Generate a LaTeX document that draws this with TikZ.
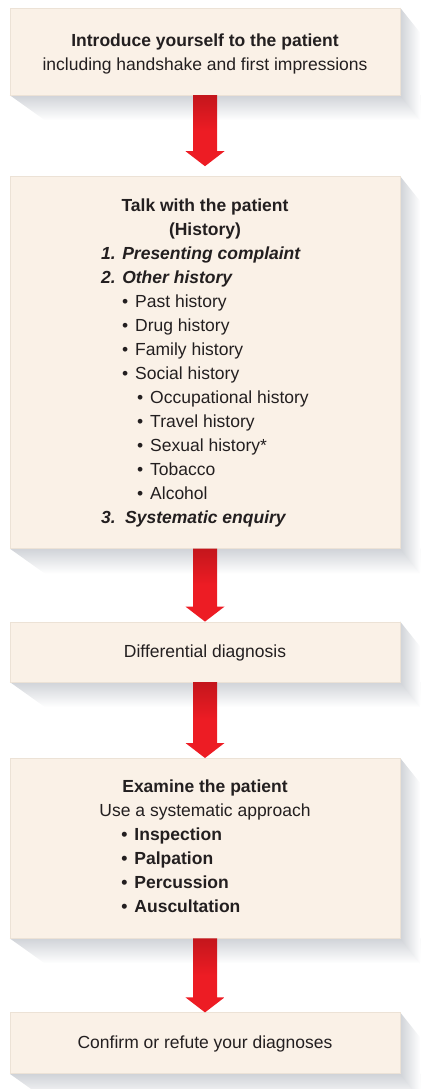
\documentclass[tikz,border=0pt]{standalone}
\usepackage{fontspec}
\setmainfont{Liberation Sans}
\usetikzlibrary{positioning,calc,backgrounds}
\definecolor{boxfill}{RGB}{250,241,231}
\definecolor{boxedge}{RGB}{236,226,214}
\definecolor{inkgray}{RGB}{35,31,32}
\definecolor{shadowgray}{RGB}{208,211,216}
\definecolor{arrowred}{RGB}{237,28,36}
\definecolor{arrowdark}{RGB}{196,22,28}
\newcommand{\bul}[1]{\hspace*{#1}\makebox[13pt][l]{\textbullet}}
\newcommand{\topstrut}[1]{\rule{0pt}{#1}}
% perspective shadow behind a box
\newcommand{\boxshadow}[1]{%
  \shade[top color=shadowgray,bottom color=white]
    (#1.south west) -- ($(#1.south west)+(35,25)$) -- ($(#1.south east)+(20,25)$)
    -- ($(#1.south east)+(20,0)$) -- cycle;
  \shade[left color=shadowgray,right color=white]
    (#1.north east) -- ($(#1.north east)+(20,25)$) -- ($(#1.south east)+(20,25)$)
    -- (#1.south east) -- cycle;}
% fat red arrow from box to box (optional gap above the target)
\newcommand{\flowarrow}[3][0]{%
  \shade[top color=arrowdark,bottom color=arrowred,middle color=arrowred]
    ($(#2.south)+(-12,0)$) -- ($(#3.north)+(-12,-15-#1)$) -- ($(#3.north)+(-19.5,-15-#1)$)
    -- ($(#3.north)+(0,-#1)$) -- ($(#3.north)+(19.5,-15-#1)$) -- ($(#3.north)+(12,-15-#1)$)
    -- ($(#2.south)+(12,0)$) -- cycle;}

\begin{document}
\begin{tikzpicture}[x=1pt,y=-1pt,
  box/.style={fill=boxfill,draw=boxedge,line width=0.4pt,minimum width=390pt,inner sep=0pt,
    align=center,text=inkgray,font=\fontsize{17.5}{24}\selectfont}]
  \useasboundingbox (0,0) rectangle (421,1089);
  \node[box,minimum height=87pt] (intro) at (205,51.5)
    {\topstrut{16.7pt}\textbf{Introduce yourself to the patient}\\including handshake and first impressions};
  \node[box,minimum height=372pt,below=81pt of intro] (hist)
    {\topstrut{16.7pt}\textbf{Talk with the patient}\\\textbf{(History)}\\
     \begin{tabular}[t]{@{}l@{}}
       \textbf{\textit{1. Presenting complaint}}\\
       \textbf{\textit{2. Other history}}\\
       \bul{21pt}Past history\\
       \bul{21pt}Drug history\\
       \bul{21pt}Family history\\
       \bul{21pt}Social history\\
       \bul{36pt}Occupational history\\
       \bul{36pt}Travel history\\
       \bul{36pt}Sexual history*\\
       \bul{36pt}Tobacco\\
       \bul{36pt}Alcohol\\
       \textbf{\textit{\makebox[24pt][l]{3.}Systematic enquiry}}
     \end{tabular}};
  \node[box,minimum height=60pt,below=73pt of hist] (ddx) {\topstrut{14.7pt}Differential diagnosis};
  \node[box,minimum height=180pt,below=76pt of ddx] (exam)
    {\topstrut{16.7pt}\textbf{Examine the patient}\\
     \begin{tabular}[t]{@{}l@{}}
       Use a systematic approach\\
       \textbf{\bul{22pt}Inspection}\\
       \textbf{\bul{22pt}Palpation}\\
       \textbf{\bul{22pt}Percussion}\\
       \textbf{\bul{22pt}Auscultation}
     \end{tabular}};
  \node[box,minimum height=61pt,below=74pt of exam] (confirm)
    {\topstrut{14.7pt}Confirm or refute your diagnoses};
  \begin{scope}[on background layer]
    \foreach \b in {intro,hist,ddx,exam,confirm} {\boxshadow{\b}}
  \end{scope}
  \flowarrow[10]{intro}{hist}
  \flowarrow{hist}{ddx}
  \flowarrow{ddx}{exam}
  \flowarrow{exam}{confirm}
\end{tikzpicture}
\end{document}
